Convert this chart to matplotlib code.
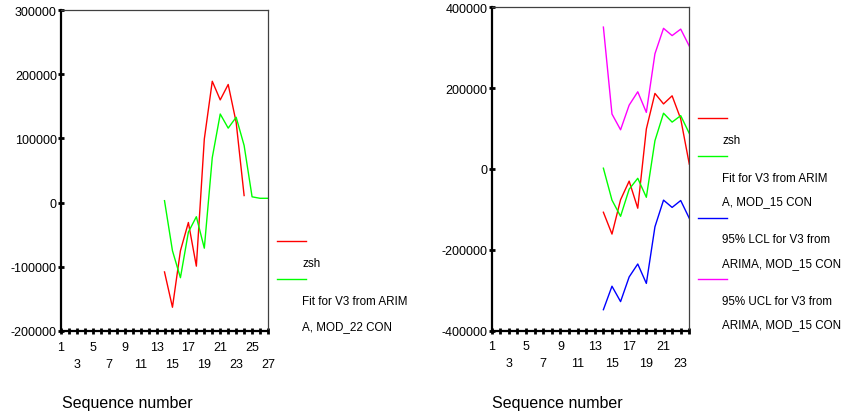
import matplotlib as mpl
mpl.use('Agg')
from matplotlib import pyplot as plt
from matplotlib.lines import Line2D

plt.rcParams['font.family'] = ['Liberation Sans', 'DejaVu Sans']

# left chart: MOD_22
seq_left = list(range(1, 28))
zsh_x = [14, 15, 16, 17, 18, 19, 20, 21, 22, 23, 24]
zsh_y = [-108000, -163000, -75000, -31000, -99000, 99000, 189000, 160000, 184000, 125000, 11000]
fit22_x = [14, 15, 16, 17, 18, 19, 20, 21, 22, 23, 24, 25, 26, 27]
fit22_y = [3000, -75000, -117000, -46000, -22000, -71000, 70000, 138000, 116000, 133000, 89000, 9000, 6700, 6700]

# right chart: MOD_15
seq_right = list(range(1, 25))
x15 = [14, 15, 16, 17, 18, 19, 20, 21, 22, 23, 24]
zsh15_y = [-107000, -161000, -76000, -30000, -97000, 99000, 187000, 161000, 181000, 124000, 12000]
fit15_y = [2000, -77000, -117000, -50000, -23000, -70000, 70000, 138000, 116000, 132000, 88000]
lcl15_y = [-348000, -290000, -328000, -267000, -235000, -283000, -143000, -77000, -95000, -78000, -122000]
ucl15_y = [351000, 136000, 97000, 158000, 191000, 140000, 285000, 348000, 330000, 346000, 304000]

yticks_left = [-200000, -100000, 0, 100000, 200000, 300000]
yticks_right = [-400000, -200000, 0, 200000, 400000]

legend_left = [('#ff0000', ['zsh']),
               ('#00ff00', ['Fit for V3 from ARIM', 'A, MOD_22 CON'])]
legend_right = [('#ff0000', ['zsh']),
                ('#00ff00', ['Fit for V3 from ARIM', 'A, MOD_15 CON']),
                ('#0000ff', ['95% LCL for V3 from', 'ARIMA, MOD_15 CON']),
                ('#ff00ff', ['95% UCL for V3 from', 'ARIMA, MOD_15 CON'])]

W, H = 846, 414
fig = plt.figure(figsize=(W / 100, H / 100), dpi=100)


def px_axes(x0, y0, x1, y1):
    return fig.add_axes([x0 / W, 1 - y1 / H, (x1 - x0) / W, (y1 - y0) / H])


def style(ax, seq, yticks):
    ax.set_xlim(seq[0], seq[-1])
    ax.set_ylim(yticks[0], yticks[-1])
    ax.set_yticks(yticks)
    ax.set_yticklabels([str(v) for v in yticks])
    ax.set_xticks(seq)
    labels = []
    for i, s in enumerate(seq):
        if i % 2:
            labels.append('')
        elif (i // 2) % 2:
            labels.append('\n' + str(s))
        else:
            labels.append(str(s))
    ax.set_xticklabels(labels)
    for lbl in ax.get_xticklabels():
        lbl.set_linespacing(1.55)
    ax.tick_params(axis='both', labelsize=9, color='black', direction='inout',
                   length=4, width=2)
    ax.tick_params(axis='x', pad=5)
    ax.tick_params(axis='y', pad=1)
    for side in ['left', 'bottom']:
        ax.spines[side].set_linewidth(1.6)
        ax.spines[side].set_color('black')
    for side in ['top', 'right']:
        ax.spines[side].set_linewidth(0.9)
        ax.spines[side].set_color('#404040')


def legend(x_line, x_text, y_first, entries, text_gap):
    y = y_first
    for color, texts in entries:
        fig.add_artist(Line2D([x_line / W, (x_line + 29) / W], [1 - y / H, 1 - y / H],
                              color=color, lw=1.0))
        ty = y + 22
        for t in texts:
            fig.text(x_text / W, 1 - ty / H, t, fontsize=8.4, va='center', ha='left')
            ty += text_gap
        y = ty - text_gap + 16


ax1 = px_axes(61, 11, 268, 332)
ax1.plot(zsh_x, zsh_y, color='#ff0000', lw=1.0)
ax1.plot(fit22_x, fit22_y, color='#00ff00', lw=1.0)
style(ax1, seq_left, yticks_left)

ax2 = px_axes(491.7, 8.3, 689.3, 331.7)
ax2.plot(x15, zsh15_y, color='#ff0000', lw=1.0)
ax2.plot(x15, fit15_y, color='#00ff00', lw=1.0)
ax2.plot(x15, lcl15_y, color='#0000ff', lw=1.0)
ax2.plot(x15, ucl15_y, color='#ff00ff', lw=1.0)
style(ax2, seq_right, yticks_right)

fig.text(62 / W, 1 - 404 / H, 'Sequence number', fontsize=11.5, va='center', ha='left')
fig.text(492 / W, 1 - 404 / H, 'Sequence number', fontsize=11.5, va='center', ha='left')

legend(277, 302, 242, legend_left, 25)
legend(698, 722, 119, legend_right, 23.5)

fig.savefig('out.png', dpi=100)
